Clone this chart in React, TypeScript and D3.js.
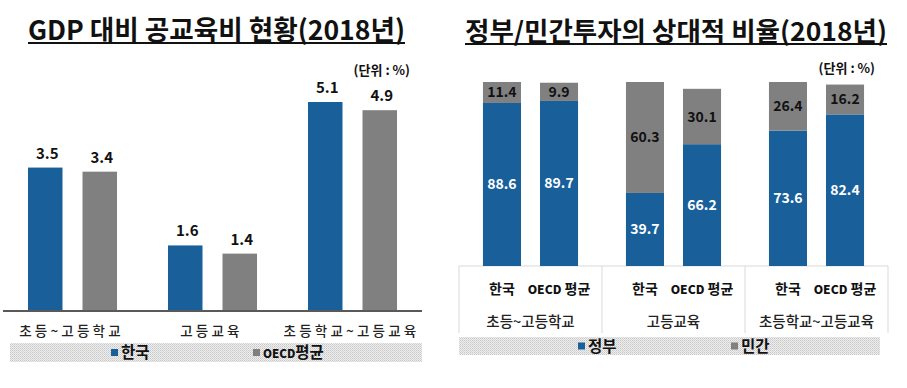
import { useMemo } from 'react';
import * as d3 from 'd3';

const levels = ['초등~고등학교', '고등교육', '초등학교~고등교육'];
const gdpKorea = [3.5, 1.6, 5.1];
const gdpOecd = [3.4, 1.4, 4.9];

const groups = ['초등~고등학교', '고등교육', '초등학교~고등교육'];
const entities = ['한국', 'OECD 평균'];
// [한국, OECD 평균] per group
const govShare = [
  [88.6, 89.7],
  [39.7, 66.2],
  [73.6, 82.4],
];
const privShare = [
  [11.4, 9.9],
  [60.3, 30.1],
  [26.4, 16.2],
];

const BLUE = '#19609b';
const GREY = '#808080';
const KR = '"Noto Sans CJK KR", "Noto Sans", sans-serif';

function Legend({ x, y, w, h, items }: { x: number; y: number; w: number; h: number; items: { label: string; color: string; x: number; small?: string }[] }) {
  return (
    <g>
      <rect x={x} y={y} width={w} height={h} fill="url(#dots)" />
      {items.map((it) => (
        <g key={it.label}>
          <rect x={it.x} y={y + h / 2 - 3.5} width={7} height={7} fill={it.color} />
          <text x={it.x + 10} y={y + h / 2 + 5.5} fontFamily={KR} fontWeight={700} fontSize={15.5} fill="#111">
            {it.small ? (
              <tspan fontSize={11.5} fontWeight={800}>{it.small}</tspan>
            ) : null}
            {it.label}
          </text>
        </g>
      ))}
    </g>
  );
}

// condensed headline title with underline
function Title({ x, y, w, size, text }: { x: number; y: number; w: number; size: number; text: string }) {
  return (
    <g>
      <text x={x} y={y} fontFamily={KR} fontWeight={700} fontSize={size} textLength={w} lengthAdjust="spacingAndGlyphs" fill="#111">
        {text}
      </text>
      <rect x={x} y={y + 2} width={w} height={2} fill="#111" />
    </g>
  );
}

function GdpChart() {
  const baseY = 311;
  const { outer, inner, y } = useMemo(() => {
    const outer = d3.scaleBand<string>().domain(levels).range([2.5, 422.5]).paddingInner(0.364).paddingOuter(0.182);
    const inner = d3.scaleBand<string>().domain(['한국', 'OECD평균']).range([0, outer.bandwidth()]).paddingInner(0.367).paddingOuter(0);
    const y = d3.scaleLinear().domain([0, 5.1]).range([baseY, 102]);
    return { outer, inner, y };
  }, []);

  return (
    <g>
      <Title x={28} y={40} w={377} size={27} text="GDP 대비 공교육비 현황(2018년)" />
      <text x={410} y={75} textAnchor="end" fontFamily={KR} fontWeight={700} fontSize={13} fill="#111">
        (단위 : %)
      </text>
      {levels.map((lv, i) => {
        const x0 = outer(lv) ?? 0;
        const pairs: [string, number, string][] = [
          ['한국', gdpKorea[i], BLUE],
          ['OECD평균', gdpOecd[i], GREY],
        ];
        return (
          <g key={lv}>
            {pairs.map(([k, v, c]) => {
              const bx = x0 + (inner(k) ?? 0);
              return (
                <g key={k}>
                  <rect x={bx} y={y(v)} width={inner.bandwidth()} height={baseY - y(v)} fill={c} />
                  <text x={bx + inner.bandwidth() / 2 + 2} y={y(v) - 9} textAnchor="middle" fontFamily={KR} fontWeight={700} fontSize={15} fill="#111">
                    {v.toFixed(1)}
                  </text>
                </g>
              );
            })}
            <text x={x0 + outer.bandwidth() / 2 - 1} y={336} textAnchor="middle" fontFamily={KR} fontWeight={500} fontSize={13.5} letterSpacing={3.2} fill="#222">
              {lv}
            </text>
          </g>
        );
      })}
      <line x1={3} x2={422} y1={baseY} y2={baseY} stroke="#595959" strokeWidth={2} />
      <Legend
        x={10}
        y={343}
        w={412}
        h={19}
        items={[
          { label: '한국', color: BLUE, x: 111 },
          { label: '평균', small: 'OECD', color: GREY, x: 253 },
        ]}
      />
    </g>
  );
}

function ShareChart() {
  const baseY = 266;
  const { outer, inner, y } = useMemo(() => {
    const outer = d3.scaleBand<string>().domain(groups).range([459, 888]).padding(0);
    const inner = d3.scaleBand<string>().domain(entities).range([0, outer.bandwidth()]).paddingInner(0.333).paddingOuter(0.42);
    const y = d3.scaleLinear().domain([0, 100]).range([baseY, 82]);
    return { outer, inner, y };
  }, []);

  const [r0, r1] = outer.range();
  return (
    <g>
      <Title x={465} y={41} w={422} size={26} text="정부/민간투자의 상대적 비율(2018년)" />
      <text x={875} y={73} textAnchor="end" fontFamily={KR} fontWeight={700} fontSize={13} fill="#111">
        (단위 : %)
      </text>
      <line x1={r0} x2={r1} y1={baseY} y2={baseY} stroke="#d9d9d9" strokeWidth={1} />
      {[...groups.map((g) => outer(g) ?? 0), r1].map((gx, i) => (
        <line key={i} x1={gx} x2={gx} y1={baseY} y2={333} stroke="#d9d9d9" strokeWidth={1} />
      ))}
      {groups.map((g, gi) => {
        const x0 = outer(g) ?? 0;
        return (
          <g key={g}>
            {entities.map((e, ei) => {
              const bx = x0 + (inner(e) ?? 0);
              const bw = inner.bandwidth();
              const gov = govShare[gi][ei];
              const priv = privShare[gi][ei];
              const top = gov + priv;
              return (
                <g key={e}>
                  <rect x={bx} y={y(gov)} width={bw} height={baseY - y(gov)} fill={BLUE} />
                  <rect x={bx} y={y(top)} width={bw} height={y(gov) - y(top)} fill={GREY} />
                  <text x={bx + bw / 2} y={(y(gov) + baseY) / 2 + 5} textAnchor="middle" fontFamily={KR} fontWeight={700} fontSize={14} fill="#fff">
                    {gov.toFixed(1)}
                  </text>
                  <text x={bx + bw / 2} y={(y(top) + y(gov)) / 2 + 5} textAnchor="middle" fontFamily={KR} fontWeight={700} fontSize={14} fill="#111">
                    {priv.toFixed(1)}
                  </text>
                  <text x={bx + bw / 2} y={294} textAnchor="middle" fontFamily={KR} fontWeight={700} fontSize={14} fill="#111">
                    {e === '한국' ? (
                      e
                    ) : (
                      <>
                        <tspan fontSize={12} fontWeight={800}>OECD</tspan> 평균
                      </>
                    )}
                  </text>
                </g>
              );
            })}
            <text x={x0 + outer.bandwidth() / 2} y={327} textAnchor="middle" fontFamily={KR} fontWeight={500} fontSize={14.5} fill="#222">
              {g}
            </text>
          </g>
        );
      })}
      <Legend
        x={459}
        y={337}
        w={421}
        h={18}
        items={[
          { label: '정부', color: BLUE, x: 578 },
          { label: '민간', color: GREY, x: 731 },
        ]}
      />
    </g>
  );
}

export default function App() {
  return (
    <>
      <style>{'body{margin:0;background:#fff}'}</style>
      <svg width={907} height={388} viewBox="0 0 907 388" style={{ display: 'block' }}>
        <defs>
          <pattern id="dots" width={2} height={2} patternUnits="userSpaceOnUse">
            <rect width={2} height={2} fill="#efefef" />
            <rect width={1} height={1} fill="#c6c6c6" />
            <rect x={1} y={1} width={1} height={1} fill="#d6d6d6" />
          </pattern>
        </defs>
        <rect width={907} height={388} fill="#fff" />
        <GdpChart />
        <ShareChart />
      </svg>
    </>
  );
}
